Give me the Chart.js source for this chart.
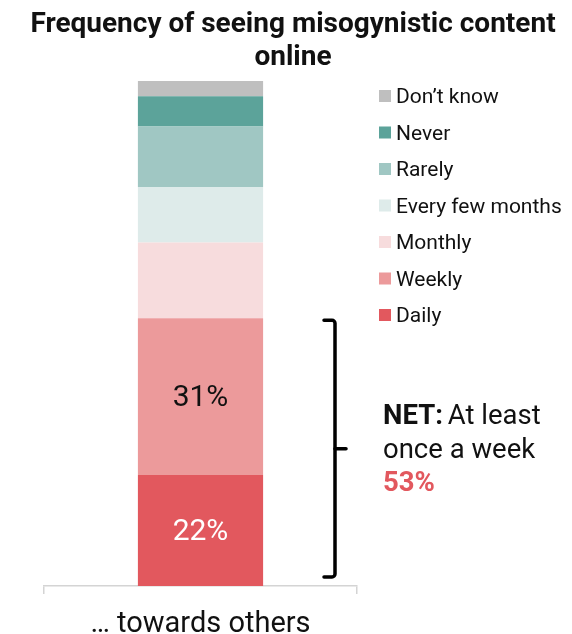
<!DOCTYPE html>
<html>
<head>
<meta charset="utf-8">
<title>Frequency of seeing misogynistic content online</title>
<script src="https://cdn.jsdelivr.net/npm/chart.js@4.4.1/dist/chart.umd.min.js"></script>
<style>
  html, body { margin: 0; padding: 0; background: #ffffff; }
  #wrap { width: 572px; height: 634px; position: relative; }
</style>
</head>
<body>
<div id="wrap"><canvas id="chart"></canvas></div>
<script>
// ---- data ----
const categories = ['\u2026 towards others'];
const seriesNames = ['Daily', 'Weekly', 'Monthly', 'Every few months', 'Rarely', 'Never', 'Don\u2019t know'];
const daily = [22];
const weekly = [31];
const monthly = [15];
const everyFewMonths = [11];
const rarely = [12];
const never = [6];
const dontKnow = [3];
const titleLines = ['Frequency of seeing misogynistic content', 'online'];
const labelledSeries = ['Daily', 'Weekly'];

// ---- styles ----
const FONT = 'Roboto, "Liberation Sans", Arial, sans-serif';
const seriesColors = ['#e2585e', '#ec9a9b', '#f7dcdd', '#deebea', '#a0c7c3', '#5ca39a', '#bfbfbf'];
const labelColors = { 'Daily': '#ffffff', 'Weekly': '#111111' };
const seriesValues = [daily, weekly, monthly, everyFewMonths, rarely, never, dontKnow];

const datasets = seriesNames.map((name, i) => ({
  label: name,
  data: seriesValues[i],
  backgroundColor: seriesColors[i],
  borderWidth: 0,
  categoryPercentage: 1,
  barPercentage: 0.4
}));

// Title, legend, value labels and the NET bracket are painted here
const decorations = {
  id: 'decorations',
  afterDatasetsDraw(chart) {
    const ctx = chart.ctx;
    const yScale = chart.scales.y;
    ctx.save();

    // title
    ctx.fillStyle = '#111111';
    ctx.textAlign = 'center';
    ctx.textBaseline = 'alphabetic';
    ctx.font = 'bold 28px ' + FONT;
    ctx.fillText(titleLines[0], 293, 32);
    ctx.fillText(titleLines[1], 293, 65);

    // value labels inside the labelled segments
    ctx.font = '30px ' + FONT;
    ctx.textBaseline = 'middle';
    chart.data.datasets.forEach((ds, di) => {
      if (!labelledSeries.includes(ds.label)) return;
      const meta = chart.getDatasetMeta(di);
      meta.data.forEach((bar, j) => {
        const p = bar.getProps(['x', 'y', 'base'], true);
        ctx.fillStyle = labelColors[ds.label];
        ctx.fillText(ds.data[j] + '%', p.x, (p.y + p.base) / 2 + 2);
      });
    });

    // legend, listed top to bottom in stack order
    ctx.textAlign = 'left';
    ctx.textBaseline = 'alphabetic';
    ctx.font = '21px ' + FONT;
    const items = chart.data.datasets.slice().reverse();
    items.forEach((ds, k) => {
      const base = 103 + k * 36.5;
      ctx.fillStyle = ds.backgroundColor;
      ctx.fillRect(379, base - 13, 12, 12);
      ctx.fillStyle = '#111111';
      ctx.fillText(ds.label, 396, base);
    });

    // NET bracket spanning Daily + Weekly
    const net = daily[0] + weekly[0];
    const top = yScale.getPixelForValue(net) + 2;
    const bottom = yScale.getPixelForValue(0) - 9;
    const mid = (top + bottom) / 2;
    const bx = 335;
    ctx.strokeStyle = '#000000';
    ctx.lineWidth = 3.5;
    ctx.lineCap = 'round';
    ctx.lineJoin = 'round';
    ctx.beginPath();
    ctx.moveTo(324, top);
    ctx.arcTo(bx, top, bx, top + 10, 3);
    ctx.arcTo(bx, bottom, 324, bottom, 3);
    ctx.lineTo(324, bottom);
    ctx.stroke();
    ctx.beginPath();
    ctx.moveTo(bx, mid);
    ctx.lineTo(346, mid);
    ctx.stroke();

    // NET text
    const tx = 383;
    ctx.font = 'bold 27.5px ' + FONT;
    ctx.fillStyle = '#111111';
    const netLabel = 'NET: ';
    ctx.fillText(netLabel, tx, mid - 25);
    const w = ctx.measureText(netLabel).width;
    ctx.font = '27.5px ' + FONT;
    ctx.fillText('At least', tx + w - 2, mid - 25);
    ctx.fillText('once a week', tx, mid + 9);
    ctx.font = 'bold 27.5px ' + FONT;
    ctx.fillStyle = seriesColors[0];
    ctx.fillText(net + '%', tx, mid + 42);

    ctx.restore();
  }
};

new Chart(document.getElementById('chart'), {
  type: 'bar',
  data: { labels: categories, datasets },
  options: {
    responsive: true,
    maintainAspectRatio: false,
    animation: false,
    layout: { padding: { top: 81, left: 44, right: 215, bottom: 0 } },
    plugins: {
      legend: { display: false },
      tooltip: { enabled: false },
      title: { display: false }
    },
    scales: {
      x: {
        stacked: true,
        afterFit(scale) { scale.height = 48; },
        grid: {
          display: true,
          offset: true,
          drawOnChartArea: false,
          drawTicks: true,
          tickLength: 8,
          color: '#d4d4d4',
          lineWidth: 1.5
        },
        border: { display: true, color: '#d4d4d4', width: 1.5 },
        ticks: {
          color: '#111111',
          padding: 13,
          font: { family: FONT, size: 29 }
        }
      },
      y: {
        stacked: true,
        display: false,
        min: 0,
        max: 100
      }
    }
  },
  plugins: [decorations]
});
</script>
</body>
</html>
